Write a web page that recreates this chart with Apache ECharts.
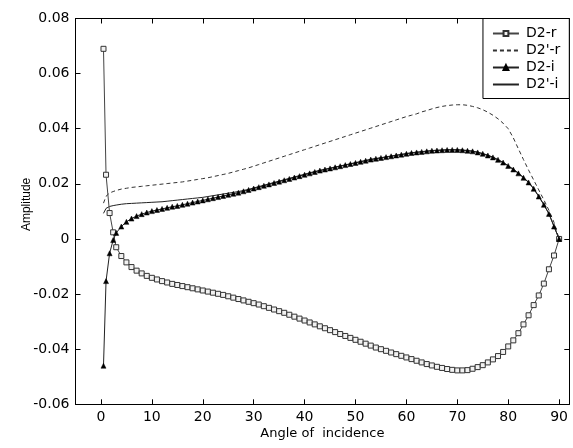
<!DOCTYPE html>
<html>
<head>
<meta charset="utf-8">
<script src="https://cdn.jsdelivr.net/npm/echarts@6/dist/echarts.min.js"></script>
<style>html,body{margin:0;padding:0;background:#fff}#c{width:573px;height:448px}</style>
</head>
<body>
<div id="c"></div>
<script>
var angles = [0.5, 1, 1.7, 2.4, 3, 4, 5, 6, 7, 8, 9, 10, 11, 12, 13, 14, 15, 16, 17, 18, 19, 20,
  21, 22, 23, 24, 25, 26, 27, 28, 29, 30, 31, 32, 33, 34, 35, 36, 37, 38, 39, 40,
  41, 42, 43, 44, 45, 46, 47, 48, 49, 50, 51, 52, 53, 54, 55, 56, 57, 58, 59, 60,
  61, 62, 63, 64, 65, 66, 67, 68, 69, 70, 71, 72, 73, 74, 75, 76, 77, 78, 79, 80,
  81, 82, 83, 84, 85, 86, 87, 88, 89, 90];

var d2r = [0.069, 0.0233, 0.0094, 0.0024, -0.003, -0.0062, -0.0085, -0.0102, -0.0115, -0.0125, -0.0134, -0.0141,
  -0.0147, -0.0153, -0.0158, -0.0163, -0.0167, -0.0171, -0.0175, -0.0179, -0.0183, -0.0187,
  -0.0191, -0.0195, -0.0199, -0.0203, -0.0208, -0.0213, -0.0218, -0.0223, -0.0228, -0.0233,
  -0.0238, -0.0244, -0.025, -0.0256, -0.0262, -0.0268, -0.0275, -0.0282, -0.0289, -0.0296,
  -0.0303, -0.031, -0.0317, -0.0324, -0.0331, -0.0338, -0.0345, -0.0352, -0.0359, -0.0366,
  -0.0373, -0.038, -0.0387, -0.0394, -0.04, -0.0406, -0.0412, -0.0418, -0.0424, -0.043,
  -0.0436, -0.0442, -0.0448, -0.0454, -0.0459, -0.0464, -0.0468, -0.0472, -0.0475, -0.0477,
  -0.0477, -0.0476, -0.0471, -0.0465, -0.0458, -0.0448, -0.0437, -0.0425, -0.041, -0.039,
  -0.0368, -0.0342, -0.031, -0.0277, -0.024, -0.0205, -0.0162, -0.011, -0.006, 0];

var d2pr = [0.013, 0.0155, 0.0167, 0.0172, 0.0176, 0.0181, 0.0184, 0.0187, 0.0189, 0.0191, 0.0193, 0.0195,
  0.0197, 0.0199, 0.0201, 0.0203, 0.0205, 0.0207, 0.021, 0.0213, 0.0216, 0.0219,
  0.0222, 0.0226, 0.023, 0.0234, 0.0238, 0.0243, 0.0248, 0.0253, 0.0258, 0.0264,
  0.027, 0.0276, 0.0282, 0.0288, 0.0294, 0.03, 0.0306, 0.0312, 0.0318, 0.0324,
  0.033, 0.0336, 0.0342, 0.0348, 0.0354, 0.036, 0.0366, 0.0372, 0.0378, 0.0384,
  0.039, 0.0396, 0.0402, 0.0408, 0.0414, 0.042, 0.0426, 0.0432, 0.0438, 0.0444,
  0.0449, 0.0454, 0.0461, 0.0466, 0.0472, 0.0477, 0.0481, 0.0484, 0.0486, 0.0487,
  0.0487, 0.0485, 0.0481, 0.0476, 0.0469, 0.046, 0.0449, 0.0436, 0.042, 0.04,
  0.0367, 0.0327, 0.0288, 0.025, 0.0214, 0.0178, 0.0142, 0.0104, 0.006, 0];

var d2i = [-0.046, -0.0153, -0.0052, -0.0004, 0.0022, 0.0045, 0.0062, 0.0074, 0.0083, 0.009, 0.0096, 0.0101,
  0.0105, 0.0109, 0.0113, 0.0117, 0.012, 0.0124, 0.0128, 0.0132, 0.0136, 0.014,
  0.0144, 0.0148, 0.0152, 0.0156, 0.016, 0.0164, 0.0168, 0.0173, 0.0178, 0.0183,
  0.0188, 0.0193, 0.0198, 0.0203, 0.0208, 0.0213, 0.0218, 0.0223, 0.0228, 0.0233,
  0.0238, 0.0243, 0.0248, 0.0252, 0.0256, 0.026, 0.0264, 0.0268, 0.0272, 0.0276,
  0.028, 0.0284, 0.0288, 0.0291, 0.0294, 0.0297, 0.03, 0.0303, 0.0306, 0.0309,
  0.0312, 0.0314, 0.0316, 0.0318, 0.032, 0.0321, 0.0322, 0.0323, 0.0323, 0.0323,
  0.0322, 0.032, 0.0318, 0.0314, 0.0309, 0.0303, 0.0296, 0.0287, 0.0277, 0.0265,
  0.0252, 0.0238, 0.0222, 0.0205, 0.0182, 0.0154, 0.0124, 0.0091, 0.0045, 0];

var d2pi = [0.0093, 0.0111, 0.0118, 0.0121, 0.0123, 0.0126, 0.0128, 0.0129, 0.013, 0.0131, 0.0132, 0.0133,
  0.0134, 0.0135, 0.0137, 0.0139, 0.0141, 0.0143, 0.0145, 0.0147, 0.0149, 0.0151,
  0.0154, 0.0157, 0.016, 0.0163, 0.0166, 0.0169, 0.0172, 0.0176, 0.018, 0.0185,
  0.019, 0.0195, 0.02, 0.0205, 0.021, 0.0215, 0.022, 0.0225, 0.023, 0.0235,
  0.024, 0.0245, 0.0249, 0.0253, 0.0257, 0.0261, 0.0265, 0.0269, 0.0273, 0.0277,
  0.0281, 0.0285, 0.0289, 0.0292, 0.0295, 0.0298, 0.0301, 0.0304, 0.0307, 0.031,
  0.0313, 0.0315, 0.0317, 0.0319, 0.0321, 0.0322, 0.0323, 0.0324, 0.0324, 0.0324,
  0.0323, 0.0321, 0.0319, 0.0315, 0.031, 0.0304, 0.0297, 0.0288, 0.0278, 0.0266,
  0.0253, 0.0239, 0.0223, 0.0206, 0.0183, 0.0155, 0.0125, 0.0092, 0.0046, 0];

var seriesNames = ["D2-r", "D2'-r", "D2-i", "D2'-i"];
var xTicks = [0, 10, 20, 30, 40, 50, 60, 70, 80, 90];
var yTicks = [-0.06, -0.04, -0.02, 0, 0.02, 0.04, 0.06, 0.08];

function pairs(ys) { return angles.map(function (a, i) { return [a, ys[i]]; }); }

var chart = echarts.init(document.getElementById('c'), null, { renderer: 'canvas' });
var axisLine = { show: true, onZero: false, lineStyle: { color: '#000', width: 1 } };
var noMarker = { color: 'transparent', borderColor: 'transparent', borderWidth: 0, opacity: 0 };

chart.setOption({
  animation: false,
  backgroundColor: '#fff',
  grid: { left: 75.5, top: 18.5, right: 3.7, bottom: 43.7, containLabel: false },
  legend: {
    data: [
      { name: seriesNames[0] },
      { name: seriesNames[1], itemStyle: noMarker },
      { name: seriesNames[2] },
      { name: seriesNames[3], itemStyle: noMarker }
    ],
    orient: 'vertical',
    right: 3.7,
    top: 18.5,
    itemWidth: 26,
    itemHeight: 6,
    itemGap: 3,
    padding: [8, 9, 7, 9],
    borderColor: '#000',
    borderWidth: 1,
    borderRadius: 0,
    backgroundColor: '#fff',
    textStyle: { fontFamily: 'DejaVu Sans', fontSize: 14, color: '#000', padding: [0, 0, 0, 2] }
  },
  xAxis: [{
    type: 'value', min: -5, max: 92, position: 'bottom',
    axisLine: axisLine,
    axisTick: { show: true, inside: true, length: 5, customValues: xTicks, lineStyle: { color: '#000' } },
    axisLabel: { show: true, customValues: xTicks, margin: 6, fontFamily: 'DejaVu Sans', fontSize: 14, color: '#000' },
    splitLine: { show: false },
    name: 'Angle of  incidence', nameLocation: 'middle', nameGap: 23, nameMoveOverlap: false,
    nameTextStyle: { fontFamily: 'DejaVu Sans', fontSize: 13, color: '#000' }
  }, {
    type: 'value', min: -5, max: 92, position: 'top',
    axisLine: axisLine,
    axisTick: { show: true, inside: true, length: 5, customValues: xTicks, lineStyle: { color: '#000' } },
    axisLabel: { show: false },
    splitLine: { show: false }
  }],
  yAxis: [{
    type: 'value', min: -0.06, max: 0.08, position: 'left',
    axisLine: axisLine,
    axisTick: { show: true, inside: true, length: 5, customValues: yTicks, lineStyle: { color: '#000' } },
    axisLabel: {
      show: true, customValues: yTicks, margin: 6,
      fontFamily: 'DejaVu Sans', fontSize: 14, color: '#000',
      formatter: function (v) { return Math.abs(v) < 1e-9 ? '0' : v.toFixed(2); }
    },
    splitLine: { show: false },
    name: 'Amplitude', nameLocation: 'middle', nameGap: 43, nameMoveOverlap: false,
    nameTextStyle: { fontFamily: 'Liberation Sans', fontSize: 12, color: '#000', padding: [0, 0, 0, 14] }
  }, {
    type: 'value', min: -0.06, max: 0.08, position: 'right',
    axisLine: axisLine,
    axisTick: { show: true, inside: true, length: 5, customValues: yTicks, lineStyle: { color: '#000' } },
    axisLabel: { show: false },
    splitLine: { show: false }
  }],
  series: [{
    name: seriesNames[0], type: 'line', data: pairs(d2r), z: 3,
    symbol: 'rect', symbolSize: 5, showSymbol: true, showAllSymbol: true,
    lineStyle: { color: '#444', width: 1 },
    itemStyle: { color: '#f2f2f2', borderColor: '#333', borderWidth: 1 }
  }, {
    name: seriesNames[1], type: 'line', data: pairs(d2pr), z: 2,
    symbol: 'none', showSymbol: false,
    lineStyle: { color: '#333', width: 1, type: [4, 3] },
    itemStyle: { color: '#333' }
  }, {
    name: seriesNames[2], type: 'line', data: pairs(d2i), z: 4,
    symbol: 'triangle', symbolSize: 5, showSymbol: true, showAllSymbol: true,
    lineStyle: { color: '#222', width: 1 },
    itemStyle: { color: '#000', borderColor: '#000', borderWidth: 0.5 }
  }, {
    name: seriesNames[3], type: 'line', data: pairs(d2pi), z: 2,
    symbol: 'none', showSymbol: false,
    lineStyle: { color: '#222', width: 1 },
    itemStyle: { color: '#222' }
  }]
});
</script>
</body>
</html>
